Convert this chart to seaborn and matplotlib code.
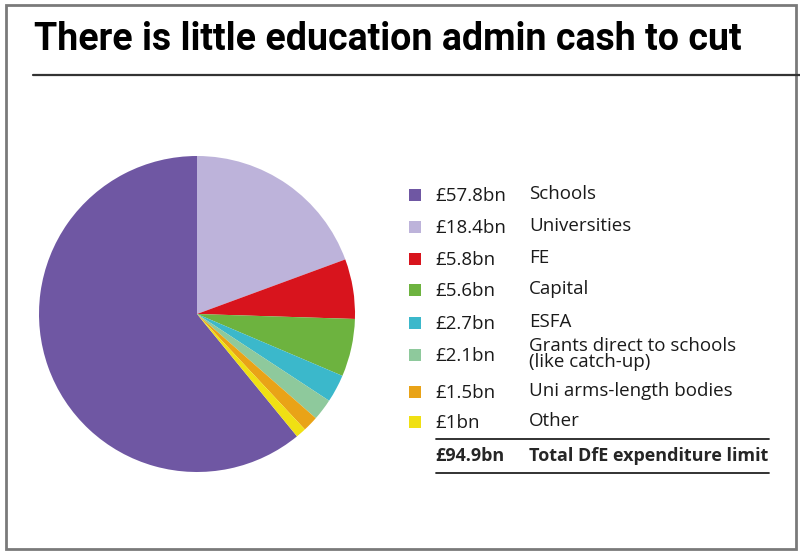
import matplotlib.pyplot as plt
import seaborn as sns
from matplotlib.patches import Rectangle
from matplotlib.lines import Line2D

# data (in legend order)
labels = ["Schools", "Universities", "FE", "Capital", "ESFA",
          "Grants direct to schools\n(like catch-up)", "Uni arms-length bodies", "Other"]
values = [57.8, 18.4, 5.8, 5.6, 2.7, 2.1, 1.5, 1.0]
value_text = ["£57.8bn", "£18.4bn", "£5.8bn", "£5.6bn", "£2.7bn", "£2.1bn", "£1.5bn", "£1bn"]
total_text = "£94.9bn"
total_label = "Total DfE expenditure limit"
colors = ["#6f57a3", "#bdb3da", "#d8141d", "#6db33f", "#3bb8cb", "#8ec99c", "#e9a317", "#f0e013"]

sns.set_theme(style="white")
plt.rcParams["font.family"] = ["Open Sans", "DejaVu Sans"]

W, H = 800, 551
fig = plt.figure(figsize=(W / 100, H / 100), dpi=100)
fig.patch.set_facecolor("white")

def fx(x):
    return x / W

def fy(y):
    return 1 - y / H

# outer frame
fig.add_artist(Rectangle((fx(6), fy(549)), fx(790), (549 - 5) / H, transform=fig.transFigure,
                         fill=False, edgecolor="#7a7a7a", linewidth=2))

# title + rule
fig.text(fx(34), fy(40), "There is little education admin cash to cut", fontsize=27,
         fontweight="bold", family=["Roboto", "DejaVu Sans"], va="center", ha="left", color="black")
fig.add_artist(Line2D([fx(33), fx(800)], [fy(75), fy(75)], transform=fig.transFigure,
                      color="#333333", linewidth=1.6))

# pie
cx, cy, r = 197, 314, 158
ax = fig.add_axes([fx(cx - r), fy(cy + r), 2 * r / W, 2 * r / H])
start = 90 + 360 * values[0] / sum(values)
ax.pie(values, colors=sns.color_palette(colors), startangle=start, counterclock=False,
       radius=1, wedgeprops=dict(linewidth=0))
ax.set_xlim(-1, 1)
ax.set_ylim(-1, 1)
ax.set_aspect("equal")
ax.axis("off")

# legend
rows_y = [195, 227, 259, 290, 323, 355, 392, 422]
for y, c, v, lab in zip(rows_y, colors, value_text, labels):
    fig.add_artist(Rectangle((fx(409), fy(y + 6)), fx(12), 12 / H, transform=fig.transFigure,
                             facecolor=c, edgecolor="none"))
    fig.text(fx(435), fy(y + 1), v, fontsize=13.5, va="center", ha="left", color="#1a1a1a")
    fig.text(fx(529), fy(y - 1), lab, fontsize=13.5, va="center", ha="left", color="#1a1a1a",
             linespacing=0.85)

for y in [439, 473]:
    fig.add_artist(Line2D([fx(436), fx(769)], [fy(y), fy(y)], transform=fig.transFigure,
                          color="#222222", linewidth=1.3))
fig.text(fx(435), fy(456), total_text, fontsize=13, fontweight="bold", va="center", ha="left")
fig.text(fx(529), fy(456), total_label, fontsize=13, fontweight="bold", va="center", ha="left")

fig.savefig("out.png", dpi=100)
